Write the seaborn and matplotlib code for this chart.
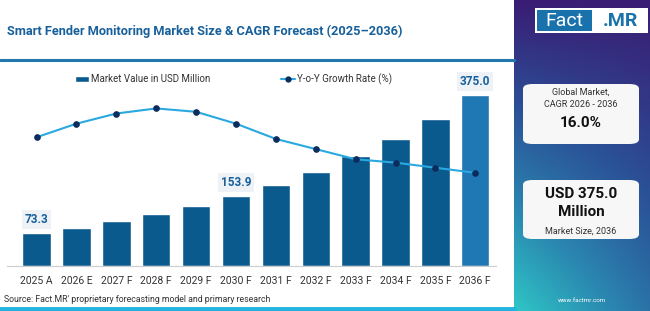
import numpy as np
import matplotlib
matplotlib.use("Agg")
import matplotlib.pyplot as plt
import seaborn as sns
from matplotlib.patches import FancyBboxPatch, Rectangle
from matplotlib.lines import Line2D
from matplotlib.colors import LinearSegmentedColormap

# data
years = ["2025 A", "2026 E", "2027 F", "2028 F", "2029 F", "2030 F",
         "2031 F", "2032 F", "2033 F", "2034 F", "2035 F", "2036 F"]
market_value = [73.3, 84.0, 98.0, 114.0, 132.0, 153.9,
                178.0, 207.0, 241.0, 278.0, 322.0, 375.0]
growth_rate = [15.7, 16.5, 17.1, 17.4, 17.2, 16.5,
               15.6, 15.0, 14.4, 14.2, 13.9, 13.6]
labelled = {0: "73.3", 5: "153.9", 11: "375.0"}

W, H = 650, 311
sns.set_style("white")
plt.rcParams['font.family'] = ['Roboto', 'DejaVu Sans']

fig = plt.figure(figsize=(W / 100, H / 100), dpi=100)
fig.patch.set_facecolor("white")

def fx(px):
    return px / W

def fy(py):  # py from top
    return 1 - py / H

# ---- right gradient panel
pan = fig.add_axes([fx(514), 0, fx(W - 514), 1])
xx, yy = np.meshgrid(np.linspace(0, 1, 60), np.linspace(0, 1, 200))
t = yy * (1 - 0.45 * xx)
cmap = LinearSegmentedColormap.from_list("fm", ["#3a1c74", "#2b4f96", "#2a86b0", "#2fc6c6"])
pan.imshow(t, cmap=cmap, aspect="auto", extent=[0, 1, 1, 0])
pan.set_xlim(0, 1)
pan.set_ylim(1, 0)
pan.axis("off")

# ---- header
fig.text(fx(7), fy(31), "Smart Fender Monitoring Market Size & CAGR Forecast (2025\u20132036)",
         fontsize=9.2, fontweight="bold", color="#17609c", va="center", ha="left")
fig.add_artist(Line2D([0, fx(514)], [fy(59.5), fy(59.5)], color="#2277ae", lw=2.2))
fig.add_artist(Line2D([0, fx(514)], [fy(309), fy(309)], color="#22b3e0", lw=3.5))

# ---- main chart
ax = fig.add_axes([fx(6.7), fy(266), fx(496 - 6.7), fy(72) - fy(266)])
x = np.arange(len(years))
bar_colors = ["#0b5a8e"] * (len(years) - 1) + ["#1f77b4"]
sns.barplot(x=x, y=market_value, hue=x, palette=bar_colors, legend=False,
            width=0.71, ax=ax, native_scale=True, saturation=1)
ax.set_xlim(-0.75, 11.52)
ax.set_ylim(0, 425)
ax.set_xticks(x)
ax.set_xticklabels(years, fontsize=7.5, color="#333333")
ax.set_xticks(np.arange(-0.5, 12, 1.0), minor=True)
ax.tick_params(axis="x", which="major", length=0, pad=7)
ax.tick_params(axis="x", which="minor", length=4, color="#cccccc", direction="out")
ax.set_yticks([])
ax.set_xlabel("")
ax.set_ylabel("")
for s in ["top", "right", "left"]:
    ax.spines[s].set_visible(False)
ax.spines["bottom"].set_color("#cccccc")
ax.spines["bottom"].set_bounds(-0.75, 11.52)
ax.patch.set_alpha(0)

for i, txt in labelled.items():
    ax.annotate(txt, (x[i], market_value[i]), xytext=(0, 5), textcoords="offset points",
                ha="center", va="bottom", fontsize=8.5, fontweight="bold", color="#17609c",
                bbox=dict(boxstyle="square,pad=0.25", fc="#eef1f5", ec="none"))

ax2 = ax.twinx()
sns.lineplot(x=x, y=growth_rate, ax=ax2, color="#29a9e0", lw=1.5, marker="o",
             markersize=4, markerfacecolor="#0b2c5c", markeredgecolor="#0b2c5c")
ax2.set_ylim(8.1, 19.55)
ax2.set_yticks([])
ax2.set_ylabel("")
for s in ["top", "right", "left", "bottom"]:
    ax2.spines[s].set_visible(False)

handles = [Rectangle((0, 0), 1, 1, fc="#0b5a8e"),
           Line2D([], [], color="#29a9e0", lw=1.5, marker="o", markersize=3.5,
                  markerfacecolor="#0b2c5c", markeredgecolor="#0b2c5c")]
fig.legend(handles, ["Market Value in USD Million", "Y-o-Y Growth Rate (%)"],
           loc="center left", bbox_to_anchor=(fx(66), fy(79)), ncol=2, frameon=False,
           fontsize=7, handlelength=1.5, handleheight=0.55, handletextpad=0.2,
           columnspacing=7.2, labelcolor="#333333")

fig.text(fx(4), fy(299), "Source: Fact.MR' proprietary forecasting model and primary research",
         fontsize=6.3, color="#333333", va="center", ha="left")

# ---- logo
fig.add_artist(Rectangle((fx(535), fy(33)), fx(113), fy(8) - fy(33), fc="white", ec="none"))
fig.add_artist(Rectangle((fx(537), fy(31)), fx(55), fy(10) - fy(31), fc="#1a72ad", ec="none"))
fig.text(fx(564.5), fy(20.5), "Fact", fontsize=14, color="white", ha="center", va="center")
fig.text(fx(620), fy(20.5), ".MR", fontsize=14, fontweight="bold", color="#1a72ad",
         ha="center", va="center")

# ---- cards
for top, bot in [(84, 144), (180, 239)]:
    fig.add_artist(FancyBboxPatch((fx(523), fy(bot)), fx(116), fy(top) - fy(bot),
                                  boxstyle="round,pad=0,rounding_size=0.015",
                                  fc="#f7f7f8", ec="none"))
fig.text(fx(581), fy(98), "Global Market,\nCAGR 2026 - 2036", fontsize=6.5, color="#333333",
         ha="center", va="center", linespacing=1.5)
fig.text(fx(581), fy(123), "16.0%", fontsize=11, fontweight="bold", color="#111111",
         ha="center", va="center")
fig.text(fx(581), fy(203), "USD 375.0\nMillion", fontsize=11, fontweight="bold",
         color="#111111", ha="center", va="center", linespacing=1.3)
fig.text(fx(581), fy(231), "Market Size, 2036", fontsize=6.5, color="#333333",
         ha="center", va="center")
fig.text(fx(582), fy(300), "www.factmr.com", fontsize=4.5, color="white", ha="center", va="center")

fig.savefig("out.png", dpi=100)
